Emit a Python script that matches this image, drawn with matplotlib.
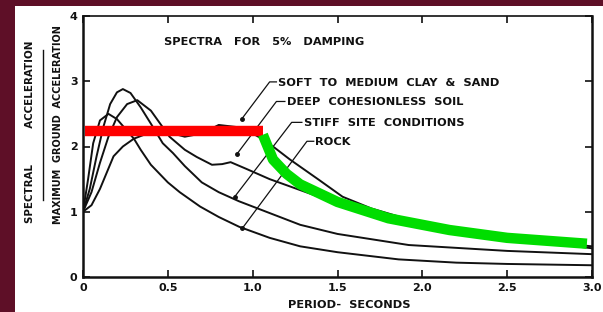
import matplotlib
matplotlib.use("Agg")
import matplotlib.pyplot as plt
from matplotlib.patches import Rectangle

# ---- data ----
T_rock = [0, 0.03, 0.06, 0.1, 0.15, 0.2, 0.3, 0.34, 0.4, 0.5, 0.57, 0.69, 0.8, 0.92, 1.1, 1.28, 1.5, 1.86, 2.2, 2.5, 3.0]
SA_rock = [1.0, 1.5, 2.05, 2.4, 2.5, 2.42, 2.12, 1.95, 1.72, 1.45, 1.3, 1.08, 0.92, 0.77, 0.6, 0.47, 0.38, 0.27, 0.22, 0.2, 0.18]

T_stiff = [0, 0.04, 0.08, 0.12, 0.16, 0.2, 0.235, 0.28, 0.34, 0.4, 0.47, 0.53, 0.6, 0.7, 0.8, 0.92, 1.08, 1.28, 1.5, 1.92, 2.5, 3.0]
SA_stiff = [1.0, 1.35, 1.85, 2.3, 2.65, 2.83, 2.88, 2.82, 2.6, 2.35, 2.05, 1.9, 1.7, 1.45, 1.3, 1.16, 1.0, 0.8, 0.66, 0.49, 0.4, 0.35]

T_deep = [0, 0.05, 0.1, 0.15, 0.2, 0.26, 0.32, 0.4, 0.51, 0.6, 0.67, 0.76, 0.82, 0.87, 0.96, 1.1, 1.25, 1.39, 1.6, 2.0, 2.5, 3.0]
SA_deep = [1.0, 1.3, 1.75, 2.15, 2.45, 2.65, 2.71, 2.55, 2.15, 1.95, 1.84, 1.72, 1.73, 1.76, 1.66, 1.5, 1.36, 1.23, 1.06, 0.82, 0.6, 0.44]

T_soft = [0, 0.05, 0.1, 0.18, 0.235, 0.3, 0.4, 0.5, 0.6, 0.7, 0.8, 0.9, 1.0, 1.04, 1.13, 1.22, 1.39, 1.53, 1.7, 2.0, 2.5, 3.0]
SA_soft = [1.0, 1.1, 1.35, 1.85, 2.0, 2.12, 2.22, 2.22, 2.15, 2.2, 2.33, 2.3, 2.2, 2.14, 1.98, 1.8, 1.49, 1.23, 1.05, 0.82, 0.6, 0.47]

red_T = [0.01, 1.06]
red_SA = [2.23, 2.23]
green_T = [1.06, 1.12, 1.2, 1.28, 1.5, 1.8, 2.16, 2.5, 2.97]
green_SA = [2.18, 1.8, 1.58, 1.42, 1.15, 0.9, 0.72, 0.6, 0.51]

x_ticks = [0, 0.5, 1.0, 1.5, 2.0, 2.5, 3.0]
x_tick_labels = ["0", "0.5", "1.0", "1.5", "2.0", "2.5", "3.0"]
y_ticks = [0, 1, 2, 3, 4]
y_tick_labels = ["0", "1", "2", "3", "4"]

labels = ["SOFT  TO  MEDIUM  CLAY  &  SAND", "DEEP  COHESIONLESS  SOIL",
          "STIFF  SITE  CONDITIONS", "ROCK"]
label_pos = [(1.15, 2.98), (1.20, 2.68), (1.30, 2.36), (1.37, 2.07)]
leader_knee = [(1.10, 2.99), (1.14, 2.69), (1.23, 2.37), (1.32, 2.08)]
leader_tip = [(0.935, 2.42), (0.906, 1.88), (0.894, 1.23), (0.94, 0.75)]

# ---- figure ----
fig = plt.figure(figsize=(6.03, 3.12), dpi=100)
fig.patch.set_facecolor("#5e0f27")
fig.patches.append(Rectangle((15 / 603, 0), 1 - 15 / 603, (312 - 6) / 312,
                             transform=fig.transFigure, facecolor="white",
                             edgecolor="none", zorder=-5))

ax = fig.add_axes([83 / 603, (312 - 277) / 312, (592 - 83) / 603, (277 - 16) / 312])
ax.set_zorder(2)
ax.set_facecolor("white")
ax.set_xlim(0, 3.0)
ax.set_ylim(0, 4.0)

lc = "#111111"
for T, SA in [(T_rock, SA_rock), (T_stiff, SA_stiff), (T_deep, SA_deep), (T_soft, SA_soft)]:
    ax.plot(T, SA, color=lc, lw=1.4, solid_joinstyle="round", solid_capstyle="round", zorder=3)

ax.plot(red_T, red_SA, color="#ff0000", lw=7.5, solid_capstyle="butt", zorder=5)
ax.plot(green_T, green_SA, color="#00dd00", lw=7.5, solid_capstyle="butt",
        solid_joinstyle="round", zorder=5)

fp = dict(fontsize=8.2, fontweight="bold", color=lc, family="DejaVu Sans")
for lab, (lx, ly), (kx, ky), (tx, ty) in zip(labels, label_pos, leader_knee, leader_tip):
    ax.text(lx, ly, lab, ha="left", va="center", **fp)
    ax.plot([lx - 0.01, kx, tx], [ky, ky, ty], color=lc, lw=0.9, zorder=4)
    ax.plot([tx], [ty], marker="o", ms=2.5, color=lc, zorder=4)

ax.text(0.48, 3.6, "SPECTRA   FOR   5%   DAMPING", ha="left", va="center", **fp)

ax.set_xticks(x_ticks)
ax.set_xticklabels(x_tick_labels)
ax.set_yticks(y_ticks)
ax.set_yticklabels(y_tick_labels)
ax.tick_params(direction="in", length=5, width=1.2, colors=lc, labelsize=8, pad=4,
               top=True, right=True)
for t in ax.get_xticklabels() + ax.get_yticklabels():
    t.set_fontweight("bold")
for s in ax.spines.values():
    s.set_linewidth(1.8)
    s.set_color(lc)
ax.spines["top"].set_linewidth(1.2)

ax.set_xlabel("PERIOD-  SECONDS", fontsize=8.2, fontweight="bold", color=lc)
ax.xaxis.set_label_coords((349 - 83) / 509, -0.09)

# y-axis ratio label
fig.text(30 / 603, 1 - 132 / 312, "SPECTRAL          ACCELERATION", rotation=90,
         ha="center", va="center", fontsize=7.4, fontweight="bold", color=lc)
fig.add_artist(plt.Line2D([43 / 603, 43 / 603], [1 - 200 / 312, 1 - 50 / 312],
                          transform=fig.transFigure, color=lc, lw=1.0))
fig.text(58 / 603, 1 - 125 / 312, "MAXIMUM  GROUND  ACCELERATION", rotation=90,
         ha="center", va="center", fontsize=7, fontweight="bold", color=lc)

fig.savefig("out.png", dpi=100, facecolor=fig.get_facecolor())
